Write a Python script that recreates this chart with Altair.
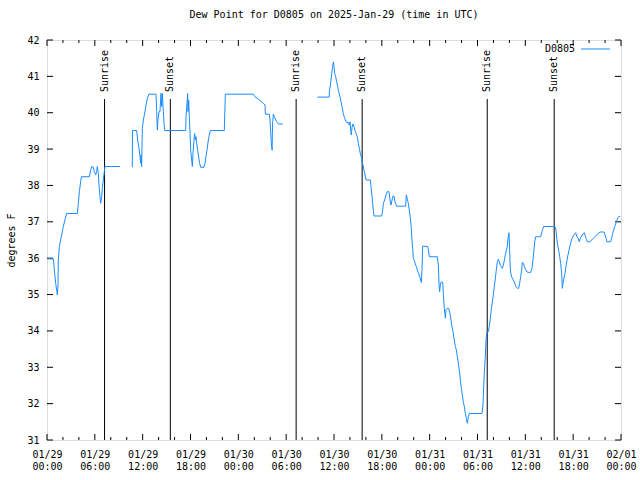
import altair as alt
import pandas as pd

title_text = "Dew Point for D0805 on 2025-Jan-29 (time in UTC)"
station = "D0805"
y_title = "degrees F"
line_color = "#1a8cff"
FONT = "DejaVu Sans Mono"

# hours since 2025-01-29 00:00 UTC and dew point (F), three unbroken runs
seg1_hours = [0.04, 0.80, 0.96, 1.09, 1.21, 1.30, 1.38, 1.42, 1.55, 1.71,
              1.88, 2.05, 2.30, 2.47, 3.81, 3.93, 4.06, 4.22, 4.31, 5.31,
              5.48, 5.60, 5.81, 5.94, 6.11, 6.23, 6.31, 6.44, 6.52, 6.65,
              6.73, 6.86, 6.94, 7.06, 7.19, 7.27, 9.16]
seg1_dew = [35.98, 35.98, 35.58, 35.31, 35.12, 34.99, 35.26, 35.95, 36.32, 36.5,
            36.68, 36.87, 37.1, 37.23, 37.23, 37.5, 37.83, 38.1, 38.24, 38.24,
            38.42, 38.52, 38.5, 38.38, 38.29, 38.38, 38.52, 38.33, 38.01, 37.69,
            37.51, 37.69, 37.92, 38.15, 38.38, 38.52, 38.52]

seg2_hours = [10.70, 10.72, 11.25, 11.37, 11.54, 11.67, 11.75, 11.79, 11.87, 11.96,
              12.08, 12.21, 12.33, 12.42, 12.54, 12.67, 12.79, 13.67, 13.76, 13.84,
              13.92, 14.05, 14.17, 14.30, 14.38, 14.47, 14.59, 14.68, 14.76, 17.39,
              17.44, 17.56, 17.64, 17.69, 17.77, 17.85, 17.94, 18.02, 18.15, 18.23,
              18.31, 18.44, 18.52, 18.61, 18.69, 18.77, 18.90, 19.02, 19.15, 19.28,
              19.69, 19.82, 19.94, 20.07, 20.24, 20.36, 20.49, 22.24, 22.37, 25.88,
              26.09, 26.51, 26.93, 27.14, 27.35, 27.39, 27.89, 27.97, 28.06, 28.14,
              28.24, 28.27, 28.31, 28.39, 28.52, 28.64, 28.81, 29.02, 29.56]
seg2_dew = [38.5, 39.51, 39.51, 39.25, 39.02, 38.79, 38.61, 38.84, 38.52, 39.57,
            39.8, 39.94, 40.08, 40.21, 40.35, 40.44, 40.51, 40.51, 40.03, 39.52,
            39.8, 40.03, 40.03, 40.53, 40.17, 40.53, 40.03, 39.71, 39.51, 39.51,
            39.89, 40.26, 40.53, 40.03, 40.35, 39.89, 39.43, 38.97, 38.7, 38.52,
            38.88, 39.25, 39.43, 39.25, 39.34, 39.16, 38.97, 38.79, 38.61, 38.5,
            38.5, 38.61, 38.79, 38.97, 39.25, 39.39, 39.51, 39.51, 40.51, 40.51,
            40.44, 40.37, 40.3, 40.26, 40.21, 39.96, 39.96, 39.8, 39.48, 39.16,
            38.97, 39.43, 39.75, 39.96, 39.89, 39.83, 39.75, 39.69, 39.69]

seg3_hours = [33.91, 35.41, 35.42, 35.58, 35.71, 35.83, 35.92, 36.00, 36.08, 36.21,
              36.33, 36.46, 36.59, 36.75, 36.88, 37.00, 37.17, 37.30, 37.42, 37.59,
              37.80, 37.92, 38.01, 38.09, 38.17, 38.26, 38.38, 38.51, 38.63, 38.76,
              38.93, 39.05, 39.18, 39.30, 39.47, 39.55, 39.64, 39.76, 39.89, 40.01,
              40.56, 40.64, 40.73, 40.85, 40.93, 41.02, 41.98, 42.11, 42.19, 42.36,
              42.52, 42.69, 42.90, 43.03, 43.15, 43.28, 43.40, 43.53, 43.65, 43.86,
              44.99, 45.07, 45.20, 45.32, 45.45, 45.58, 45.70, 45.78, 45.87, 45.95,
              46.08, 46.20, 46.33, 46.45, 46.62, 46.75, 46.87, 46.96, 47.04, 47.12,
              47.75, 47.83, 47.96, 48.96, 49.09, 49.17, 49.25, 49.34, 49.42, 49.63,
              49.71, 49.84, 49.97, 50.05, 50.17, 50.38, 50.55, 50.68, 50.80, 50.93,
              51.05, 51.22, 51.35, 51.47, 51.60, 51.72, 51.85, 51.97, 52.10, 52.22,
              52.35, 52.47, 52.60, 52.72, 52.85, 52.98, 54.56, 54.69, 54.77, 54.86,
              54.98, 55.07, 55.19, 55.36, 55.48, 55.61, 55.73, 55.86, 55.99, 56.11,
              56.24, 56.36, 56.49, 56.61, 56.74, 56.86, 56.99, 57.11, 57.24, 57.37,
              57.49, 57.62, 57.74, 57.83, 57.95, 58.03, 58.12, 58.24, 58.37, 58.49,
              58.62, 58.75, 58.87, 59.04, 59.16, 59.29, 59.41, 59.54, 59.62, 59.75,
              59.87, 60.04, 60.21, 60.42, 60.67, 60.84, 60.96, 61.09, 61.17, 61.30,
              61.92, 62.05, 62.17, 62.30, 63.72, 63.85, 63.93, 64.06, 64.18, 64.31,
              64.43, 64.56, 64.64, 64.72, 64.85, 64.98, 65.10, 65.23, 65.35, 65.48,
              65.60, 65.73, 65.85, 66.02, 66.19, 66.31, 66.44, 66.61, 66.77, 66.90,
              67.07, 67.23, 67.40, 67.53, 67.65, 67.78, 68.11, 68.32, 68.53, 68.74,
              68.95, 69.20, 69.45, 69.87, 69.99, 70.12, 70.24, 70.70, 70.83, 70.95,
              71.08, 71.21, 71.33, 71.46, 71.58, 71.71, 71.90]
seg3_dew = [40.43, 40.43, 40.58, 40.81, 41.08, 41.27, 41.4, 41.27, 41.08, 40.99,
            40.85, 40.72, 40.58, 40.44, 40.3, 40.17, 39.98, 39.87, 39.8, 39.73,
            39.73, 39.66, 39.75, 39.52, 39.39, 39.6, 39.69, 39.62, 39.52, 39.43,
            39.34, 39.16, 39.02, 38.88, 38.75, 38.61, 38.56, 38.42, 38.29, 38.15,
            38.15, 37.97, 37.78, 37.51, 37.32, 37.16, 37.16, 37.32, 37.51, 37.6,
            37.74, 37.83, 37.83, 37.6, 37.46, 37.6, 37.71, 37.71, 37.55, 37.43,
            37.43, 37.74, 37.62, 37.51, 37.32, 37.1, 36.82, 36.5, 36.27, 36.0,
            35.93, 35.84, 35.77, 35.67, 35.58, 35.49, 35.4, 35.33, 35.67, 36.33,
            36.32, 36.23, 36.04, 36.04, 35.81, 35.31, 35.08, 35.26, 35.34, 35.34,
            35.03, 34.62, 34.35, 34.59, 34.62, 34.62, 34.48, 34.3, 34.12, 33.98,
            33.8, 33.57, 33.48, 33.29, 33.11, 32.93, 32.65, 32.42, 32.24, 32.05,
            31.92, 31.73, 31.6, 31.46, 31.64, 31.73, 31.73, 31.96, 32.42, 32.88,
            33.29, 33.75, 33.98, 33.98, 34.12, 34.35, 34.58, 34.8, 34.99, 35.22,
            35.45, 35.68, 35.9, 35.97, 35.9, 35.81, 35.77, 35.72, 35.81, 35.95,
            36.09, 36.22, 36.32, 36.55, 36.7, 36.22, 35.68, 35.51, 35.45, 35.4,
            35.35, 35.26, 35.2, 35.17, 35.17, 35.31, 35.49, 35.68, 35.88, 35.86,
            35.77, 35.69, 35.62, 35.61, 35.61, 35.72, 35.95, 36.22, 36.45, 36.59,
            36.59, 36.7, 36.79, 36.87, 36.87, 36.77, 36.55, 36.36, 36.22, 36.04,
            35.86, 35.58, 35.17, 35.31, 35.45, 35.58, 35.77, 35.95, 36.09, 36.22,
            36.34, 36.45, 36.55, 36.61, 36.67, 36.7, 36.61, 36.55, 36.45, 36.55,
            36.61, 36.67, 36.7, 36.61, 36.52, 36.45, 36.45, 36.5, 36.55, 36.59,
            36.64, 36.7, 36.72, 36.72, 36.64, 36.55, 36.45, 36.45, 36.55, 36.68,
            36.77, 36.87, 36.94, 37.03, 37.1, 37.14, 37.15]

assert len(seg1_hours) == len(seg1_dew)
assert len(seg2_hours) == len(seg2_dew)
assert len(seg3_hours) == len(seg3_dew)

sun_hours = [7.22, 15.47, 31.25, 39.53, 55.22, 63.62]
sun_labels = ["Sunrise", "Sunset", "Sunrise", "Sunset", "Sunrise", "Sunset"]

x_tick_hours = [0, 6, 12, 18, 24, 30, 36, 42, 48, 54, 60, 66, 72]
x_date_labels = ["01/29", "01/29", "01/29", "01/29", "01/30", "01/30", "01/30",
                 "01/30", "01/31", "01/31", "01/31", "01/31", "02/01"]
x_time_labels = ["00:00", "06:00", "12:00", "18:00", "00:00", "06:00", "12:00",
                 "18:00", "00:00", "06:00", "12:00", "18:00", "00:00"]
x_minor_hours = [2, 4, 8, 10, 14, 16, 20, 22, 26, 28, 32, 34, 38, 40, 44, 46,
                 50, 52, 56, 58, 62, 64, 68, 70]
y_ticks = [31, 32, 33, 34, 35, 36, 37, 38, 39, 40, 41, 42]

W, H = 574, 400

rows = []
for sid, (hs, vs) in enumerate([(seg1_hours, seg1_dew), (seg2_hours, seg2_dew),
                                (seg3_hours, seg3_dew)]):
    for h, v in zip(hs, vs):
        rows.append({"h": h, "v": v, "seg": sid})
df = pd.DataFrame(rows)

label_expr = "[" + ",".join(
    f"['{d}','{t}']" for d, t in zip(x_date_labels, x_time_labels)
) + "][round(datum.value/6)]"

x_scale = alt.Scale(domain=[0, 72], nice=False, zero=False)
y_scale = alt.Scale(domain=[31, 42], nice=False, zero=False)

x_axis = alt.Axis(values=x_tick_hours, labelExpr=label_expr, ticks=False,
                  domain=False, grid=False, labelPadding=9,
                  labelBaseline="top", labelLineHeight=12, labelFlush=False,
                  labelOverlap=False, labelFont=FONT, labelFontSize=10,
                  labelColor="black", title=None)
y_axis = alt.Axis(values=y_ticks, ticks=False, domain=False, grid=False,
                  labelPadding=8, labelFont=FONT, labelFontSize=10,
                  labelColor="black", title=y_title, titleFont=FONT,
                  titleFontSize=10, titleFontWeight="normal",
                  titleColor="black", titlePadding=10)


def xenc(field="h"):
    return alt.X(f"{field}:Q", scale=x_scale, axis=x_axis)


def yenc(field="v"):
    return alt.Y(f"{field}:Q", scale=y_scale, axis=y_axis)


line = alt.Chart(df).mark_line(color=line_color, strokeWidth=1).encode(
    x=xenc(), y=yenc(), detail="seg:N"
)

sun_df = pd.DataFrame({"h": sun_hours, "label": sun_labels})
sun_rules = alt.Chart(sun_df).mark_rule(color="black", strokeWidth=1).encode(
    x=xenc(), y=alt.value(59), y2=alt.value(H)
)
sun_text = alt.Chart(sun_df).mark_text(
    angle=270, align="left", baseline="middle", font=FONT, fontSize=10,
    color="black"
).encode(x=xenc(), y=alt.value(52), text="label:N")

ydf = pd.DataFrame({"v": y_ticks})
yt_left = alt.Chart(ydf).mark_rule(color="black").encode(
    y=yenc(), x=alt.value(0), x2=alt.value(6))
yt_right = alt.Chart(ydf).mark_rule(color="black").encode(
    y=yenc(), x=alt.value(W - 6), x2=alt.value(W))

xmaj = pd.DataFrame({"h": x_tick_hours})
xmin = pd.DataFrame({"h": x_minor_hours})
xt_bot = alt.Chart(xmaj).mark_rule(color="black").encode(
    x=xenc(), y=alt.value(H - 6), y2=alt.value(H))
xt_top = alt.Chart(xmaj).mark_rule(color="black").encode(
    x=xenc(), y=alt.value(0), y2=alt.value(6))
xm_bot = alt.Chart(xmin).mark_rule(color="black").encode(
    x=xenc(), y=alt.value(H - 3), y2=alt.value(H))
xm_top = alt.Chart(xmin).mark_rule(color="black").encode(
    x=xenc(), y=alt.value(0), y2=alt.value(3))

leg_df = pd.DataFrame({"label": [station]})
leg_text = alt.Chart(leg_df).mark_text(
    align="right", baseline="middle", font=FONT, fontSize=10, color="black"
).encode(x=alt.value(528), y=alt.value(9), text="label:N")
leg_line = alt.Chart(leg_df).mark_rule(color=line_color, strokeWidth=1).encode(
    x=alt.value(534), x2=alt.value(563), y=alt.value(9))

chart = alt.layer(
    yt_left, yt_right, xt_bot, xt_top, xm_bot, xm_top,
    sun_rules, sun_text, line, leg_text, leg_line
).properties(
    width=W, height=H,
    title=alt.TitleParams(title_text, font=FONT, fontSize=10,
                          fontWeight="normal", color="black", anchor="middle",
                          offset=15),
    padding={"left": 47, "top": 40, "right": 19, "bottom": 40},
    autosize=alt.AutoSizeParams(type="none"),
).configure_view(stroke="black", strokeWidth=1).configure(background="white")

chart.save("out.html", embed_options={"renderer": "svg", "actions": False})
